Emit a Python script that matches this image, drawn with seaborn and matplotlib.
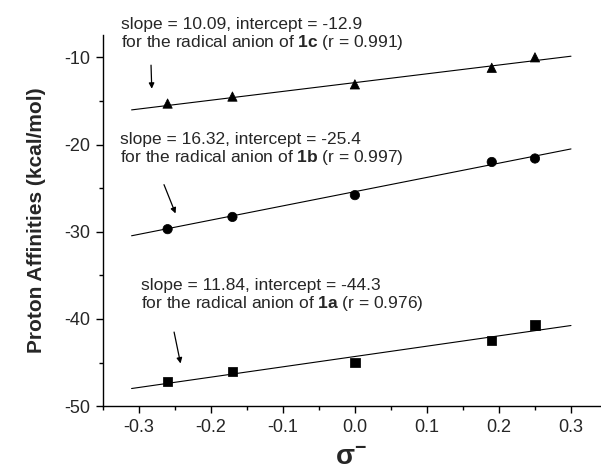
import numpy as np
import pandas as pd
import matplotlib
matplotlib.use("Agg")
import matplotlib.pyplot as plt
from matplotlib.ticker import MultipleLocator, FuncFormatter
import seaborn as sns

# ── data ──────────────────────────────────────────────────────────────────────
sigma = [-0.26, -0.17, 0.00, 0.19, 0.25]
pa_1a = [-47.2, -46.0, -45.0, -42.5, -40.7]
pa_1b = [-29.7, -28.3, -25.8, -22.0, -21.6]
pa_1c = [-15.3, -14.5, -13.1, -11.2, -10.0]

compounds = ["1a", "1b", "1c"]
slopes = [11.84, 16.32, 10.09]
intercepts = [-44.3, -25.4, -12.9]
r_values = [0.976, 0.997, 0.991]
fit_range = [-0.31, 0.30]

sns.set_theme(style="ticks")
plt.rcParams["font.family"] = ["Liberation Sans", "DejaVu Sans"]
plt.rcParams["axes.unicode_minus"] = False
plt.rcParams["mathtext.fontset"] = "custom"
plt.rcParams["mathtext.rm"] = "Liberation Sans"
plt.rcParams["mathtext.bf"] = "Liberation Sans:bold"
plt.rcParams["mathtext.it"] = "Liberation Sans:italic"

df = pd.DataFrame({
    "sigma": sigma * 3,
    "pa": pa_1a + pa_1b + pa_1c,
    "compound": ["1a"] * 5 + ["1b"] * 5 + ["1c"] * 5,
})

fig = plt.figure(figsize=(6.01, 4.74), dpi=100)
ax = fig.add_axes([0.171, 0.143, 0.827, 0.783])

sns.scatterplot(data=df, x="sigma", y="pa", style="compound",
                markers={"1a": "s", "1b": "o", "1c": "^"},
                color="black", s=45, edgecolor="black", legend=False, ax=ax)

# fitted lines from the reported slope / intercept
for cmp, m, b in zip(compounds, slopes, intercepts):
    xs = np.array(fit_range)
    sns.lineplot(x=xs, y=m * xs + b, color="black", lw=0.8, ax=ax)

# annotations: (text x, text y, arrow tail, arrow head)
notes = {
    "1c": (-0.324, -7.4, (-0.283, -10.9), (-0.282, -13.6)),
    "1b": (-0.326, -20.6, (-0.265, -24.6), (-0.249, -27.9)),
    "1a": (-0.297, -37.3, (-0.251, -41.5), (-0.242, -45.1)),
}
for cmp, m, b, r in zip(compounds, slopes, intercepts, r_values):
    tx, ty, tail, head = notes[cmp]
    ax.text(tx, ty,
            f"slope = {m:.2f}, intercept = {b:.1f}\n"
            f"for the radical anion of $\\mathbf{{{cmp}}}$ (r = {r:.3f})",
            fontsize=12.5, va="center", ha="left", linespacing=1.1)
    ax.annotate("", xy=head, xytext=tail,
                arrowprops=dict(arrowstyle="-|>", color="black", lw=0.9,
                                mutation_scale=8, shrinkA=0, shrinkB=0))

ax.set_xlim(-0.35, 0.34)
ax.set_ylim(-50, -7.45)
ax.xaxis.set_major_locator(MultipleLocator(0.1))
ax.xaxis.set_minor_locator(MultipleLocator(0.05))
ax.yaxis.set_major_locator(MultipleLocator(10))
ax.yaxis.set_minor_locator(MultipleLocator(5))
ax.xaxis.set_major_formatter(FuncFormatter(lambda v, p: f"{v:.1f}"))
ax.tick_params(which="major", direction="out", length=5, width=1, pad=4,
               labelsize=13, color="black")
ax.tick_params(which="minor", direction="out", length=3, width=1, color="black")
for side in ["top", "right"]:
    ax.spines[side].set_visible(False)
for side in ["left", "bottom"]:
    ax.spines[side].set_color("black")
    ax.spines[side].set_linewidth(1)

ax.set_xlabel("σ$^{\\mathbf{-}}$", fontsize=20, fontweight="bold", labelpad=7)
ax.set_ylabel("Proton Affinities (kcal/mol)", fontsize=15, fontweight="bold", labelpad=13)

fig.savefig("out.png", dpi=100)
